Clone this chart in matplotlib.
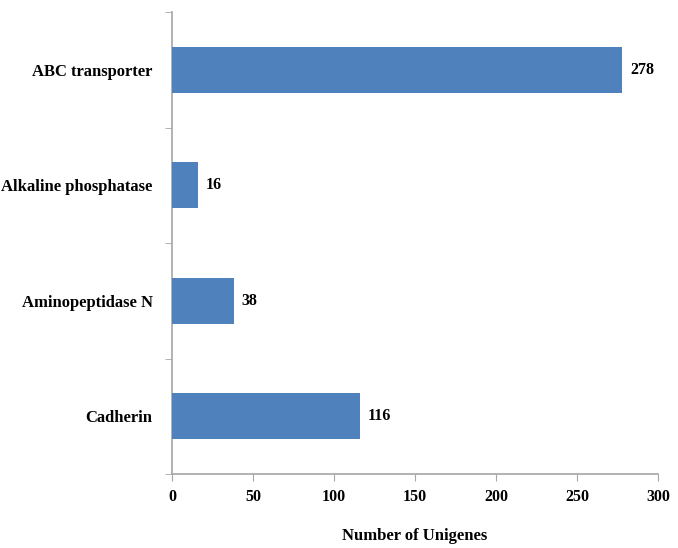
import numpy as np
import matplotlib.pyplot as plt

categories = ['Cadherin', 'Aminopeptidase N', 'Alkaline phosphatase', 'ABC transporter']
counts = [116, 38, 16, 278]
xticks = [0, 50, 100, 150, 200, 250, 300]

plt.rcParams['font.family'] = ['Liberation Serif', 'DejaVu Serif']
plt.rcParams['font.weight'] = 'bold'

fig = plt.figure(figsize=(6.78, 5.48), dpi=100)
ax = fig.add_axes([0.2537, 0.135, 0.7168, 0.843])

y = np.arange(len(categories))
ax.barh(y, counts, height=0.4, color='#4F81BD', zorder=3)
for yi, v in zip(y, counts):
    ax.text(v + 5, yi, str(v), va='center', ha='left', fontsize=11.5, fontweight='bold')

ax.set_xlim(0, 300)
ax.set_ylim(-0.5, len(categories) - 0.5)
ax.set_xticks(xticks)
ax.set_yticks(y)
ax.set_yticklabels(categories, fontsize=12, fontweight='bold')
ax.set_yticks(np.arange(-0.5, len(categories)), minor=True)
ax.tick_params(axis='y', which='major', length=0, pad=14)
ax.tick_params(axis='y', which='minor', length=5, color='#A6A6A6', direction='out')
ax.tick_params(axis='x', length=5, color='#A6A6A6', labelsize=11.5, pad=6)
for lab in ax.get_xticklabels():
    lab.set_fontweight('bold')

for s in ['top', 'right']:
    ax.spines[s].set_visible(False)
for s in ['left', 'bottom']:
    ax.spines[s].set_color('#A6A6A6')
    ax.spines[s].set_linewidth(1.2)

ax.set_xlabel('Number of Unigenes', fontsize=12, fontweight='bold', labelpad=16)

fig.savefig('out.png', dpi=100)
